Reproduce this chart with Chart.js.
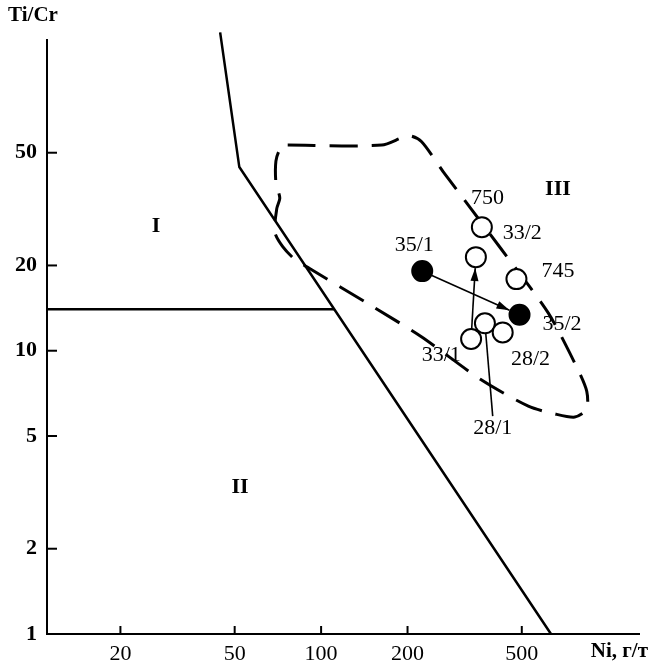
<!DOCTYPE html>
<html>
<head>
<meta charset="utf-8">
<script src="https://cdn.jsdelivr.net/npm/chart.js@4.4.0/dist/chart.umd.min.js"></script>
<style>html,body{margin:0;padding:0;background:#fff}</style>
</head>
<body>
<canvas id="chart" width="651" height="668"></canvas>
<script>
// axis ticks
const xTicks = [20, 50, 100, 200, 500];
const yTicks = [1, 2, 5, 10, 20, 50];

// samples (Ni, g/t ; Ti/Cr)
const samples = ['35/1', '35/2', '750', '33/2', '745', '28/1', '28/2', '33/1'];
const niValues = [225, 491, 363, 346, 479, 372, 429, 333];
const tiCrValues = [19.1, 13.4, 27.3, 21.4, 17.9, 12.5, 11.6, 11.0];
const filled = [true, true, false, false, false, false, false, false];

// where each sample label sits
const labelNi = [211, 690, 380, 502, 668, 396, 536, 262];
const labelTiCr = [23.6, 12.4, 34.6, 25.9, 19.1, 5.33, 9.31, 9.68];

// arrows between samples
const arrows = [['35/1', '35/2'], ['33/1', '33/2']];

// field boundaries (solid)
const boundNi = [44.5, 51.9, 632];
const boundTiCr = [133, 44.5, 1];
const splitNi = [11.1, 111];
const splitTiCr = [14.0, 14.0];

// dashed outline
const fieldNi = [76.5, 162.7, 201.5, 223.5, 266, 422, 618, 784, 842, 842, 765, 653, 527, 360, 223.5, 150, 91.2, 81, 73.5, 69.0, 70.1, 71.8, 69.6, 69.6, 71.8, 76.5];
const fieldTiCr = [53.2, 53.2, 57.4, 54.8, 42.9, 23.0, 13.6, 8.59, 7.19, 6.21, 5.83, 5.98, 6.37, 7.91, 11.2, 14.4, 19.5, 21.0, 23.3, 26.2, 31.8, 34.6, 39.2, 46.7, 51.2, 53.2];

// field names
const fieldNames = ['I', 'II', 'III'];
const fieldNameNi = [26.6, 52.2, 668];
const fieldNameTiCr = [27.5, 3.30, 37.1];

const serif = '"Liberation Serif", "Times New Roman", serif';
const pts = (xs, ys) => xs.map((v, i) => ({x: v, y: ys[i]}));

const overlay = {
  id: 'overlay',
  afterDatasetsDraw(chart) {
    const {ctx, chartArea: a} = chart;
    const x = chart.scales.x, y = chart.scales.y;
    ctx.save();
    ctx.strokeStyle = '#000';
    ctx.fillStyle = '#000';
    ctx.lineWidth = 2;
    // inner tick marks
    yTicks.forEach(v => {
      const py = y.getPixelForValue(v);
      ctx.beginPath(); ctx.moveTo(a.left, py); ctx.lineTo(a.left + 10, py); ctx.stroke();
    });
    xTicks.forEach(v => {
      const px = x.getPixelForValue(v);
      ctx.beginPath(); ctx.moveTo(px, a.bottom); ctx.lineTo(px, a.bottom - 8); ctx.stroke();
    });

    const pos = name => {
      const i = samples.indexOf(name);
      return [x.getPixelForValue(niValues[i]), y.getPixelForValue(tiCrValues[i])];
    };
    // arrows
    ctx.lineWidth = 1.6;
    arrows.forEach(([from, to]) => {
      const [x1, y1] = pos(from), [x2, y2] = pos(to);
      const ang = Math.atan2(y2 - y1, x2 - x1);
      const sx = x1 + 10 * Math.cos(ang), sy = y1 + 10 * Math.sin(ang);
      const ex = x2 - 11 * Math.cos(ang), ey = y2 - 11 * Math.sin(ang);
      ctx.beginPath(); ctx.moveTo(sx, sy); ctx.lineTo(ex, ey); ctx.stroke();
      ctx.beginPath();
      ctx.moveTo(ex, ey);
      ctx.lineTo(ex - 13 * Math.cos(ang) + 4 * Math.sin(ang), ey - 13 * Math.sin(ang) - 4 * Math.cos(ang));
      ctx.lineTo(ex - 13 * Math.cos(ang) - 4 * Math.sin(ang), ey - 13 * Math.sin(ang) + 4 * Math.cos(ang));
      ctx.closePath(); ctx.fill();
    });
    // leader from label 28/1 to its point
    {
      const i = samples.indexOf('28/1');
      const [px, py] = pos('28/1');
      const lx = x.getPixelForValue(labelNi[i]), ly = y.getPixelForValue(labelTiCr[i]) - 12;
      const ang = Math.atan2(py - ly, px - lx);
      ctx.beginPath(); ctx.moveTo(lx, ly); ctx.lineTo(px - 10 * Math.cos(ang), py - 10 * Math.sin(ang)); ctx.stroke();
    }

    // sample labels
    ctx.textAlign = 'center';
    ctx.textBaseline = 'middle';
    ctx.font = '22px ' + serif;
    samples.forEach((s, i) => {
      ctx.fillText(s, x.getPixelForValue(labelNi[i]), y.getPixelForValue(labelTiCr[i]));
    });
    ctx.font = 'bold 22px ' + serif;
    fieldNames.forEach((s, i) => {
      ctx.fillText(s, x.getPixelForValue(fieldNameNi[i]), y.getPixelForValue(fieldNameTiCr[i]));
    });
    // axis titles
    ctx.font = 'bold 21px ' + serif;
    ctx.fillText('Ti/Cr', 33, 16);
    ctx.textAlign = 'right';
    ctx.fillText('Ni, г/т', 648, 652);
    ctx.restore();
  }
};

new Chart(document.getElementById('chart'), {
  type: 'scatter',
  data: {
    datasets: [
      {
        data: pts(niValues, tiCrValues),
        pointRadius: 10,
        pointBorderWidth: 2,
        pointBorderColor: '#000',
        pointBackgroundColor: filled.map(f => f ? '#000' : '#fff'),
        showLine: false
      },
      {
        data: pts(boundNi, boundTiCr),
        showLine: true, pointRadius: 0, borderColor: '#000', borderWidth: 2.5, clip: false
      },
      {
        data: pts(splitNi, splitTiCr),
        showLine: true, pointRadius: 0, borderColor: '#000', borderWidth: 2.5
      },
      {
        data: pts(fieldNi, fieldTiCr),
        showLine: true, pointRadius: 0, borderColor: '#000', borderWidth: 3,
        borderDash: [28, 14], tension: 0.25
      }
    ]
  },
  options: {
    responsive: false,
    animation: false,
    devicePixelRatio: 1,
    layout: {padding: {top: 40, right: 6, left: 0, bottom: 0}},
    plugins: {legend: {display: false}, tooltip: {enabled: false}},
    scales: {
      x: {
        type: 'logarithmic', min: 11.1, max: 1280,
        grid: {display: false, drawTicks: false},
        border: {display: true, color: '#000', width: 2},
        afterBuildTicks: s => { s.ticks = xTicks.map(v => ({value: v})); },
        afterFit: s => { s.height = 34; },
        ticks: {font: {family: serif, size: 22}, color: '#000', padding: 7, maxRotation: 0, autoSkip: false, callback: v => String(v)}
      },
      y: {
        type: 'logarithmic', min: 1, max: 125,
        grid: {display: false, drawTicks: false},
        border: {display: true, color: '#000', width: 2},
        afterBuildTicks: s => { s.ticks = yTicks.map(v => ({value: v})); },
        afterFit: s => { s.width = 47; },
        ticks: {font: {family: serif, size: 22, weight: 'bold'}, color: '#000', padding: 10, autoSkip: false, callback: v => String(v)}
      }
    }
  },
  plugins: [overlay]
});
</script>
</body>
</html>
